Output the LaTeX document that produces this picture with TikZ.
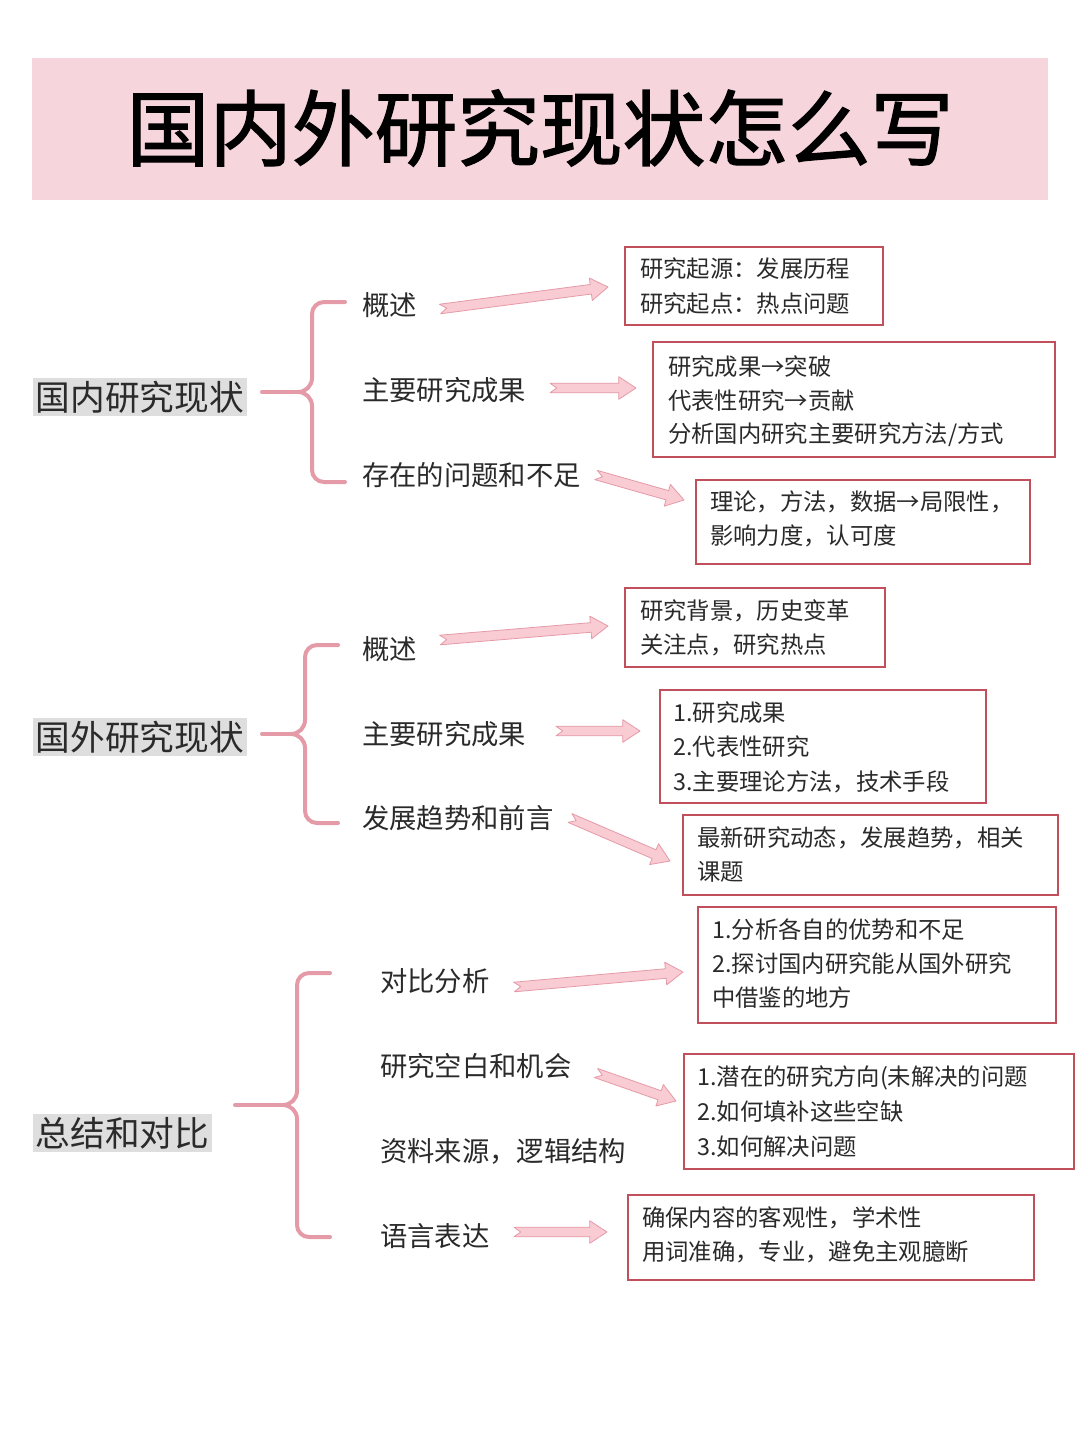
\documentclass[tikz,border=0pt]{standalone}
\usepackage{fontspec}
\setmainfont{Noto Sans CJK SC}
\newfontfamily\cjkb[FakeBold=1.5]{Noto Sans CJK SC}
\usetikzlibrary{calc}
\definecolor{band}{HTML}{F6D6DC}
\definecolor{brc}{HTML}{E59AA8}
\definecolor{afill}{HTML}{F9CBD3}
\definecolor{boxc}{HTML}{C2505C}
\definecolor{tx}{HTML}{2A2A2A}
\tikzset{
 sec/.style={fill=black!13,inner sep=2pt,anchor=west,font=\fontsize{26}{28}\selectfont,text=tx},
 item/.style={anchor=west,inner sep=0pt,font=\fontsize{20.5}{24}\selectfont,text=tx},
 infobox/.style={draw=boxc,line width=1.4pt,inner sep=0pt},
 info/.style={anchor=west,inner sep=0pt,font=\fontsize{17.5}{20}\selectfont,text=tx},
 brace/.style={draw=brc,line width=3pt,line cap=round},
 arr/.style={fill=afill,draw=brc,line width=0.6pt,line join=round}
}
\newcommand\fatarr[2]{%
 \coordinate (hh) at ($(#2)!13pt!(#1)$);
 \path[arr] ($(#1)!3.6pt!90:(#2)$) -- ($(hh)!3.6pt!-90:(#1)$) -- ($(hh)!8.5pt!-90:(#1)$) -- (#2)
  -- ($(hh)!8.5pt!90:(#1)$) -- ($(hh)!3.6pt!90:(#1)$) -- ($(#1)!3.6pt!-90:(#2)$) -- ($(#1)!5pt!(#2)$) -- cycle;}
\newcommand\brc[4]{% tipx, vx, top, bottom ; item start x = vx+33
 \pgfmathsetmacro\mid{(#3+#4)/2}
 \draw[brace] ({#2+33},#3) -- ({#2+12},#3) to[out=180,in=90] (#2,{#3+12}) -- (#2,{\mid-14})
   to[out=-90,in=0] ({#2-14},\mid) to[out=0,in=90] (#2,{\mid+14}) -- (#2,{#4-12})
   to[out=-90,in=180] ({#2+12},#4) -- ({#2+33},#4);
 \draw[brace] (#1,\mid) -- ({#2-14},\mid);}
\begin{document}
\begin{tikzpicture}[x=0.75pt,y=-0.75pt]
\useasboundingbox[fill=white] (0,0) rectangle (1078,1429);
\fill[band] (32,58) rectangle (1048,200);
\node[text=black,font=\cjkb\fontsize{62}{66}\selectfont] (title) at (540,128) {国内外研究现状怎么写};

% group 1
\node[sec] (s1) at (33,397) {国内研究现状};
\brc{262}{312}{302}{482}
\node[item] (i11) at (362,305) {概述};
\node[item] (i12) at (362,390) {主要研究成果};
\node[item] (i13) at (362,475) {存在的问题和不足};
\draw[infobox] (625,247) rectangle (883,325); \node[info] (b11) at (640,269) {研究起源：发展历程}; \node[info] (b12) at (640,304) {研究起点：热点问题};
\draw[infobox] (653,342) rectangle (1055,457); \node[info] (b21) at (668,367) {研究成果→突破}; \node[info] (b22) at (668,401) {代表性研究→贡献}; \node[info] (b23) at (668,435) {分析国内研究主要研究方法/方式};
\draw[infobox] (696,480) rectangle (1030,564); \node[info] (b31) at (710,502) {理论，方法，数据→局限性，}; \node[info] (b32) at (710,536) {影响力度，认可度};
\coordinate (a1s) at (440,309); \coordinate (a1e) at (608,287); \fatarr{a1s}{a1e}
\coordinate (a2s) at (550,388); \coordinate (a2e) at (636,388); \fatarr{a2s}{a2e}
\coordinate (a3s) at (596,475); \coordinate (a3e) at (684,500); \fatarr{a3s}{a3e}

% group 2
\node[sec] (s2) at (33,737) {国外研究现状};
\brc{262}{305}{645}{823}
\node[item] (i21) at (362,649) {概述};
\node[item] (i22) at (362,734) {主要研究成果};
\node[item] (i23) at (362,818) {发展趋势和前言};
\draw[infobox] (625,588) rectangle (885,667); \node[info] (c11) at (640,611) {研究背景，历史变革}; \node[info] (c12) at (640,645) {关注点，研究热点};
\draw[infobox] (660,690) rectangle (986,803); \node[info] (c21) at (673,713) {1.研究成果}; \node[info] (c22) at (673,747) {2.代表性研究}; \node[info] (c23) at (673,782) {3.主要理论方法，技术手段};
\draw[infobox] (683,815) rectangle (1058,895); \node[info] (c31) at (697,838) {最新研究动态，发展趋势，相关}; \node[info] (c32) at (697,872) {课题};
\coordinate (a4s) at (440,640); \coordinate (a4e) at (608,626); \fatarr{a4s}{a4e}
\coordinate (a5s) at (556,731); \coordinate (a5e) at (640,731); \fatarr{a5s}{a5e}
\coordinate (a6s) at (570,818); \coordinate (a6e) at (670,861); \fatarr{a6s}{a6e}

% group 3
\node[sec] (s3) at (33,1133) {总结和对比};
\brc{235}{297}{973}{1237}
\node[item] (i31) at (380,981) {对比分析};
\node[item] (i32) at (380,1066) {研究空白和机会};
\node[item] (i33) at (380,1151) {资料来源，逻辑结构};
\node[item] (i34) at (380,1236) {语言表达};
\draw[infobox] (698,907) rectangle (1056,1023); \node[info] (d11) at (712,930) {1.分析各自的优势和不足}; \node[info] (d12) at (712,964) {2.探讨国内研究能从国外研究}; \node[info] (d13) at (712,998) {中借鉴的地方};
\draw[infobox] (684,1054) rectangle (1074,1169); \node[info] (d21) at (697,1078) {1.潜在的研究方向(未解决的问题}; \node[info] (d22) at (697,1112) {2.如何填补这些空缺}; \node[info] (d23) at (697,1147) {3.如何解决问题};
\draw[infobox] (628,1195) rectangle (1034,1280); \node[info] (d31) at (642,1218) {确保内容的客观性，学术性}; \node[info] (d32) at (642,1252) {用词准确，专业，避免主观臆断};
\coordinate (a7s) at (514,987); \coordinate (a7e) at (683,972); \fatarr{a7s}{a7e}
\coordinate (a8s) at (596,1073); \coordinate (a8e) at (676,1101); \fatarr{a8s}{a8e}
\coordinate (a9s) at (514,1232); \coordinate (a9e) at (607,1232); \fatarr{a9s}{a9e}
\end{tikzpicture}
\end{document}
